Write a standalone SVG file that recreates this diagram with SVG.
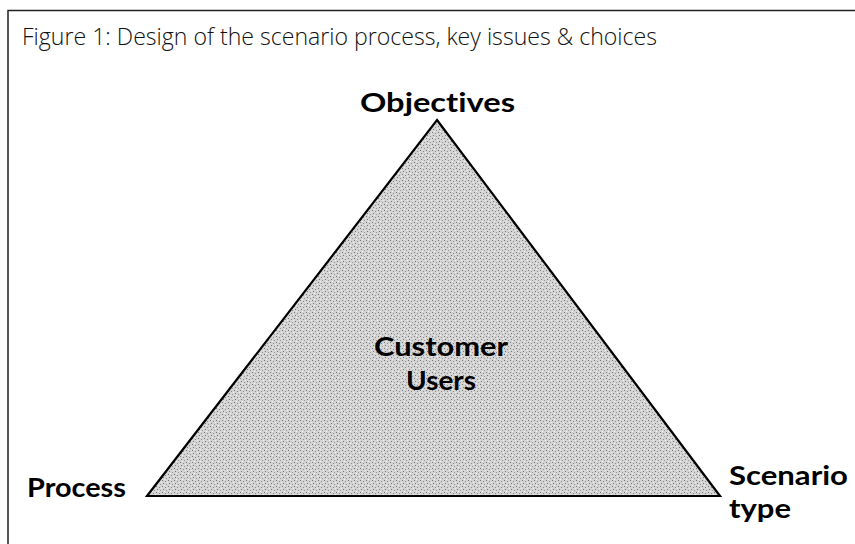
<svg xmlns="http://www.w3.org/2000/svg" width="855" height="544" viewBox="0 0 855 544">
  <defs>
    <style>
      .title { font-family: "Open Sans", "Liberation Sans", sans-serif; font-weight: 300; font-size: 23px; fill: #111; }
      .label { font-family: Lato, "Open Sans", "Liberation Sans", sans-serif; font-weight: 700; font-size: 27px; fill: #000; font-variant-ligatures: none; }
      .frame { fill: none; stroke: #222; stroke-width: 1.5; }
      .tri { fill: url(#stipple); stroke: #000; stroke-width: 2.2; stroke-linejoin: miter; }
    </style>
    <!-- fine dot screen for the shaded triangle -->
    <pattern id="stipple" width="6" height="6" patternUnits="userSpaceOnUse">
      <rect width="6" height="6" fill="#d4d4d4"/>
      <rect x="0" y="0" width="1" height="1" fill="#777"/>
      <rect x="3" y="1" width="1" height="1" fill="#888"/>
      <rect x="1" y="3" width="1" height="1" fill="#777"/>
      <rect x="4" y="4" width="1" height="1" fill="#999"/>
      <rect x="5" y="2" width="1" height="1" fill="#eee"/>
      <rect x="2" y="5" width="1" height="1" fill="#f2f2f2"/>
    </pattern>
  </defs>

  <rect width="855" height="544" fill="#fff"/>

  <!-- frame: top rule and left rule -->
  <path class="frame" d="M8,544 L8,10.5 L855,10.5"/>

  <text class="title" x="22" y="45" textLength="635" lengthAdjust="spacingAndGlyphs">Figure 1: Design of the scenario process, key issues &amp; choices</text>

  <g id="triangle">
    <polygon class="tri" points="437,120 720,496 147,496"/>
  </g>

  <g id="objectives">
    <text class="label" x="360" y="112" textLength="155" lengthAdjust="spacingAndGlyphs">Objectives</text>
  </g>

  <g id="customer-users">
    <text class="label" x="374" y="356" textLength="134" lengthAdjust="spacingAndGlyphs">Customer</text>
    <text class="label" x="406" y="390" textLength="70" lengthAdjust="spacingAndGlyphs">Users</text>
  </g>

  <g id="process">
    <text class="label" x="27" y="497" textLength="99" lengthAdjust="spacingAndGlyphs">Process</text>
  </g>

  <g id="scenario-type">
    <text class="label" x="729" y="485" textLength="119" lengthAdjust="spacingAndGlyphs">Scenario</text>
    <text class="label" x="729" y="518" textLength="62" lengthAdjust="spacingAndGlyphs">type</text>
  </g>

  <g id="connectors"></g>
</svg>
